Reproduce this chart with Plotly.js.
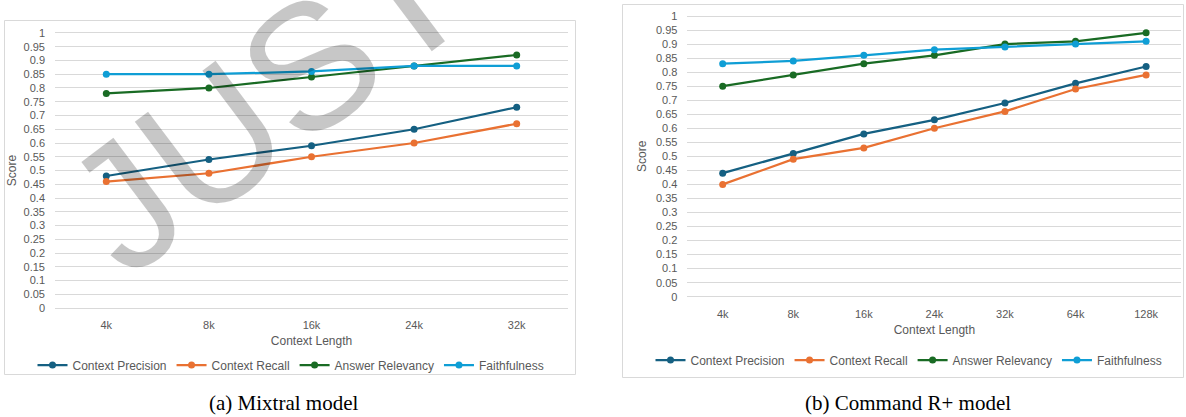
<!DOCTYPE html>
<html>
<head>
<meta charset="utf-8">
<script src="https://cdn.plot.ly/plotly-3.0.1.min.js"></script>
<style>
html,body{margin:0;padding:0;background:#fff;}
#chart{width:1186px;height:417px;}
</style>
</head>
<body>
<div id="chart"></div>
<script>
// ---- data ----
const seriesNames = ['Context Precision', 'Context Recall', 'Answer Relevancy', 'Faithfulness'];

const categoriesA = ['4k', '8k', '16k', '24k', '32k'];
const precisionA = [0.48, 0.54, 0.59, 0.65, 0.73];
const recallA = [0.46, 0.49, 0.55, 0.60, 0.67];
const relevancyA = [0.78, 0.80, 0.84, 0.88, 0.92];
const faithfulnessA = [0.85, 0.85, 0.86, 0.88, 0.88];

const categoriesB = ['4k', '8k', '16k', '24k', '32k', '64k', '128k'];
const precisionB = [0.44, 0.51, 0.58, 0.63, 0.69, 0.76, 0.82];
const recallB = [0.40, 0.49, 0.53, 0.60, 0.66, 0.74, 0.79];
const relevancyB = [0.75, 0.79, 0.83, 0.86, 0.90, 0.91, 0.94];
const faithfulnessB = [0.83, 0.84, 0.86, 0.88, 0.89, 0.90, 0.91];

const scoreTickVals = [0, 0.05, 0.1, 0.15, 0.2, 0.25, 0.3, 0.35, 0.4, 0.45, 0.5, 0.55, 0.6, 0.65, 0.7, 0.75, 0.8, 0.85, 0.9, 0.95, 1];
const scoreTickText = ['0', '0.05', '0.1', '0.15', '0.2', '0.25', '0.3', '0.35', '0.4', '0.45', '0.5', '0.55', '0.6', '0.65', '0.7', '0.75', '0.8', '0.85', '0.9', '0.95', '1'];

const captionA = '(a) Mixtral model';
const captionB = '(b) Command R+ model';
const xTitle = 'Context Length';
const yTitle = 'Score';
const watermark = 'JUST';

// ---- styling ----
const W = 1186, H = 417;
const px = x => x / W;
const py = y => 1 - y / H;
const colors = ['#156082', '#E97132', '#196B24', '#0F9ED5'];
const greyText = '#595959';
const gridColor = '#d9d9d9';
const sans = 'Liberation Sans, Arial, sans-serif';

const seriesA = [precisionA, recallA, relevancyA, faithfulnessA];
const seriesB = [precisionB, recallB, relevancyB, faithfulnessB];

const traces = [];
seriesA.forEach((vals, i) => {
  traces.push({
    type: 'scatter', mode: 'lines+markers', name: seriesNames[i],
    x: categoriesA, y: vals, xaxis: 'x', yaxis: 'y', legend: 'legend',
    line: {color: colors[i], width: 2.25},
    marker: {color: colors[i], size: 7, symbol: 'circle'},
    hoverinfo: 'skip'
  });
});
seriesB.forEach((vals, i) => {
  traces.push({
    type: 'scatter', mode: 'lines+markers', name: seriesNames[i],
    x: categoriesB, y: vals, xaxis: 'x2', yaxis: 'y2', legend: 'legend2',
    line: {color: colors[i], width: 2.25},
    marker: {color: colors[i], size: 7, symbol: 'circle'},
    hoverinfo: 'skip'
  });
});

function yAxis(top, bottom, standoff) {
  return {
    domain: [py(bottom), py(top)],
    range: [-0.005, 1.005],
    tickvals: scoreTickVals, ticktext: scoreTickText,
    showgrid: true, gridcolor: gridColor, gridwidth: 1,
    zeroline: false, showline: false, ticks: '',
    ticklabelstandoff: 9,
    tickfont: {family: sans, size: 11, color: greyText},
    title: {text: yTitle, font: {family: sans, size: 12, color: greyText}, standoff: standoff},
    automargin: false, fixedrange: true
  };
}
function xAxis(left, right, n, standoff) {
  return {
    domain: [px(left), px(right)],
    type: 'category', range: [-0.5, n - 0.5],
    showgrid: false, zeroline: false, showline: false, ticks: '',
    ticklabelstandoff: 8,
    tickfont: {family: sans, size: 11, color: greyText},
    title: {text: xTitle, font: {family: sans, size: 12, color: greyText}, standoff: standoff},
    automargin: false, fixedrange: true
  };
}

const xa = xAxis(55, 568, categoriesA.length, 6);
xa.anchor = 'y';
const ya = yAxis(33 - 1.375, 308 + 1.375, 4);
ya.anchor = 'x';
const xb = xAxis(687.4, 1181.4, categoriesB.length, 6);
xb.anchor = 'y2';
const yb = yAxis(16 - 1.4, 296.7 + 1.4, 6);
yb.anchor = 'x2';

const legendStyle = (xc, yc) => ({
  orientation: 'h', x: px(xc), y: py(yc), xanchor: 'center', yanchor: 'middle',
  xref: 'paper', yref: 'paper',
  font: {family: sans, size: 12, color: greyText},
  bgcolor: 'rgba(0,0,0,0)', itemwidth: 30, itemclick: false, itemdoubleclick: false
});

const layout = {
  width: W, height: H,
  margin: {l: 0, r: 0, t: 0, b: 0, pad: 0},
  paper_bgcolor: '#ffffff', plot_bgcolor: '#ffffff',
  showlegend: true,
  hovermode: false,
  xaxis: xa, yaxis: ya, xaxis2: xb, yaxis2: yb,
  legend: legendStyle(291, 365),
  legend2: legendStyle(909, 360),
  shapes: [
    {type: 'rect', xref: 'paper', yref: 'paper', x0: px(4.5), x1: px(575.5), y0: py(374.5), y1: py(20.5),
     line: {color: gridColor, width: 1}, fillcolor: 'rgba(0,0,0,0)', layer: 'below'},
    {type: 'rect', xref: 'paper', yref: 'paper', x0: px(622.5), x1: px(1183.5), y0: py(377.5), y1: py(4.5),
     line: {color: gridColor, width: 1}, fillcolor: 'rgba(0,0,0,0)', layer: 'below'}
  ],
  annotations: [
    {text: captionA, xref: 'paper', yref: 'paper', x: px(283), y: py(403), xanchor: 'center', yanchor: 'middle',
     showarrow: false, font: {family: 'Liberation Serif, Times New Roman, serif', size: 21, color: '#000'}},
    {text: captionB, xref: 'paper', yref: 'paper', x: px(908), y: py(403), xanchor: 'center', yanchor: 'middle',
     showarrow: false, font: {family: 'Liberation Serif, Times New Roman, serif', size: 21, color: '#000'}},
    {text: watermark, xref: 'paper', yref: 'paper', x: px(267), y: py(99), xanchor: 'center', yanchor: 'middle',
     showarrow: false, textangle: -37,
     font: {family: sans, size: 178, color: 'rgba(0,0,0,0.22)'}}
  ]
};

Plotly.newPlot('chart', traces, layout, {displayModeBar: false, staticPlot: true});
</script>
</body>
</html>
